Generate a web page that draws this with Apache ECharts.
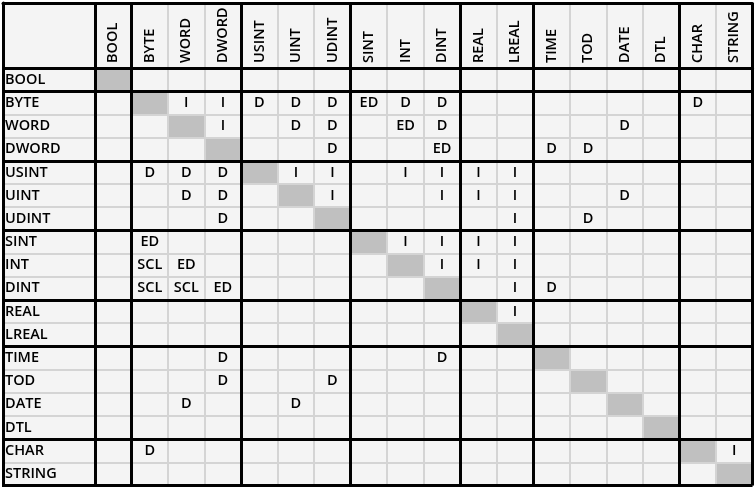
<!DOCTYPE html>
<html><head><meta charset="utf-8">
<script src="https://cdn.jsdelivr.net/npm/echarts@6/dist/echarts.min.js"></script>
<style>html,body{margin:0;padding:0;background:#fff}#c{width:756px;height:490px}</style>
</head><body><div id="c"></div>
<script>
// Data types (same order for rows = source, columns = target)
const types = ['BOOL','BYTE','WORD','DWORD','USINT','UINT','UDINT','SINT','INT','DINT','REAL','LREAL','TIME','TOD','DATE','DTL','CHAR','STRING'];
// Conversion codes per source row; 'X' = same type (gray diagonal cell)
const rowBOOL   = ['X','','','','','','','','','','','','','','','','',''];
const rowBYTE   = ['','X','I','I','D','D','D','ED','D','D','','','','','','','D',''];
const rowWORD   = ['','','X','I','','D','D','','ED','D','','','','','D','','',''];
const rowDWORD  = ['','','','X','','','D','','','ED','','','D','D','','','',''];
const rowUSINT  = ['','D','D','D','X','I','I','','I','I','I','I','','','','','',''];
const rowUINT   = ['','','D','D','','X','I','','','I','I','I','','','D','','',''];
const rowUDINT  = ['','','','D','','','X','','','','','I','','D','','','',''];
const rowSINT   = ['','ED','','','','','','X','I','I','I','I','','','','','',''];
const rowINT    = ['','SCL','ED','','','','','','X','I','I','I','','','','','',''];
const rowDINT   = ['','SCL','SCL','ED','','','','','','X','','I','D','','','','',''];
const rowREAL   = ['','','','','','','','','','','X','I','','','','','',''];
const rowLREAL  = ['','','','','','','','','','','','X','','','','','',''];
const rowTIME   = ['','','','D','','','','','','D','','','X','','','','',''];
const rowTOD    = ['','','','D','','','D','','','','','','','X','','','',''];
const rowDATE   = ['','','D','','','D','','','','','','','','','X','','',''];
const rowDTL    = ['','','','','','','','','','','','','','','','X','',''];
const rowCHAR   = ['','D','','','','','','','','','','','','','','','X','I'];
const rowSTRING = ['','','','','','','','','','','','','','','','','','X'];
// Group boundaries (thick lines) start at these type indices
const groupStarts = [0, 1, 4, 7, 10, 12, 16];

const rows = [rowBOOL,rowBYTE,rowWORD,rowDWORD,rowUSINT,rowUINT,rowUDINT,rowSINT,rowINT,rowDINT,rowREAL,rowLREAL,rowTIME,rowTOD,rowDATE,rowDTL,rowCHAR,rowSTRING];
const cells = [];
rows.forEach((r, y) => r.forEach((code, x) => cells.push([x, y, code === 'X' ? 1 : 0])));

const FONT = 'Open Sans';
const FS = 14.5;
const FW = 600;
const GRAY = '#d4d4d4';
const cellGrid = {left: 95, top: 68, right: 3.5, bottom: 4.5};
const isGroup = (i) => groupStarts.indexOf(i) >= 0;

const chart = echarts.init(document.getElementById('c'));
chart.setOption({
  animation: false,
  backgroundColor: '#fff',
  grid: [
    {left: 3, top: 3, right: 3.5, bottom: 4.5, show: true, backgroundColor: '#f4f4f4', borderWidth: 0},
    Object.assign({}, cellGrid),
    Object.assign({}, cellGrid)
  ],
  visualMap: {type: 'piecewise', show: false, dimension: 2, seriesIndex: 0,
    pieces: [{value: 0, color: '#f4f4f4'}, {value: 1, color: '#c0c0c0'}]},
  xAxis: [
    {gridIndex: 0, type: 'value', position: 'top', min: 0, max: 1, z: 6,
      axisLine: {show: true, onZero: false, lineStyle: {color: '#000', width: 3}},
      axisTick: {show: false}, axisLabel: {show: false}, splitLine: {show: false}},
    {gridIndex: 1, type: 'category', data: types, position: 'top', z: 3,
      axisLine: {show: true, lineStyle: {color: '#000', width: 3}},
      axisTick: {show: true, interval: 0, length: 65, lineStyle: {color: GRAY, width: 2}},
      axisLabel: {interval: 0, rotate: -90, margin: 5, padding: [8, 0, 0, 0], fontFamily: FONT, fontSize: FS, fontWeight: FW, color: '#000'},
      splitLine: {show: true, interval: 0, lineStyle: {color: GRAY, width: 2}}},
    {gridIndex: 2, type: 'category', data: types, position: 'top', z: 5,
      axisLine: {show: false},
      axisTick: {show: true, interval: (i) => isGroup(i), length: 65, lineStyle: {color: '#000', width: 3}},
      axisLabel: {show: false},
      splitLine: {show: true, interval: (i) => isGroup(i), lineStyle: {color: '#000', width: 3}}}
  ],
  yAxis: [
    {gridIndex: 0, type: 'value', position: 'left', min: 0, max: 1, z: 6,
      axisLine: {show: true, onZero: false, lineStyle: {color: '#000', width: 3}},
      axisTick: {show: false}, axisLabel: {show: false}, splitLine: {show: false}},
    {gridIndex: 1, type: 'category', data: types, inverse: true, z: 3,
      axisLine: {show: true, lineStyle: {color: '#000', width: 3}},
      axisTick: {show: true, interval: 0, length: 93, lineStyle: {color: GRAY, width: 2}},
      axisLabel: {interval: 0, align: 'left', margin: 90, fontFamily: FONT, fontSize: FS, fontWeight: FW, color: '#000'},
      splitLine: {show: true, interval: 0, lineStyle: {color: GRAY, width: 2}}},
    {gridIndex: 2, type: 'category', data: types, inverse: true, z: 5,
      axisLine: {show: false},
      axisTick: {show: true, interval: (i) => isGroup(i), length: 93, lineStyle: {color: '#000', width: 3}},
      axisLabel: {show: false},
      splitLine: {show: true, interval: (i) => isGroup(i), lineStyle: {color: '#000', width: 3}}}
  ],
  series: [{
    type: 'heatmap', xAxisIndex: 1, yAxisIndex: 1, data: cells,
    label: {show: true, fontFamily: FONT, fontSize: FS, fontWeight: FW, color: '#000',
      formatter: (p) => { const c = rows[p.value[1]][p.value[0]]; return c === 'X' ? '' : c; }},
    emphasis: {disabled: true},
    itemStyle: {borderWidth: 0}
  }]
});
</script></body></html>
